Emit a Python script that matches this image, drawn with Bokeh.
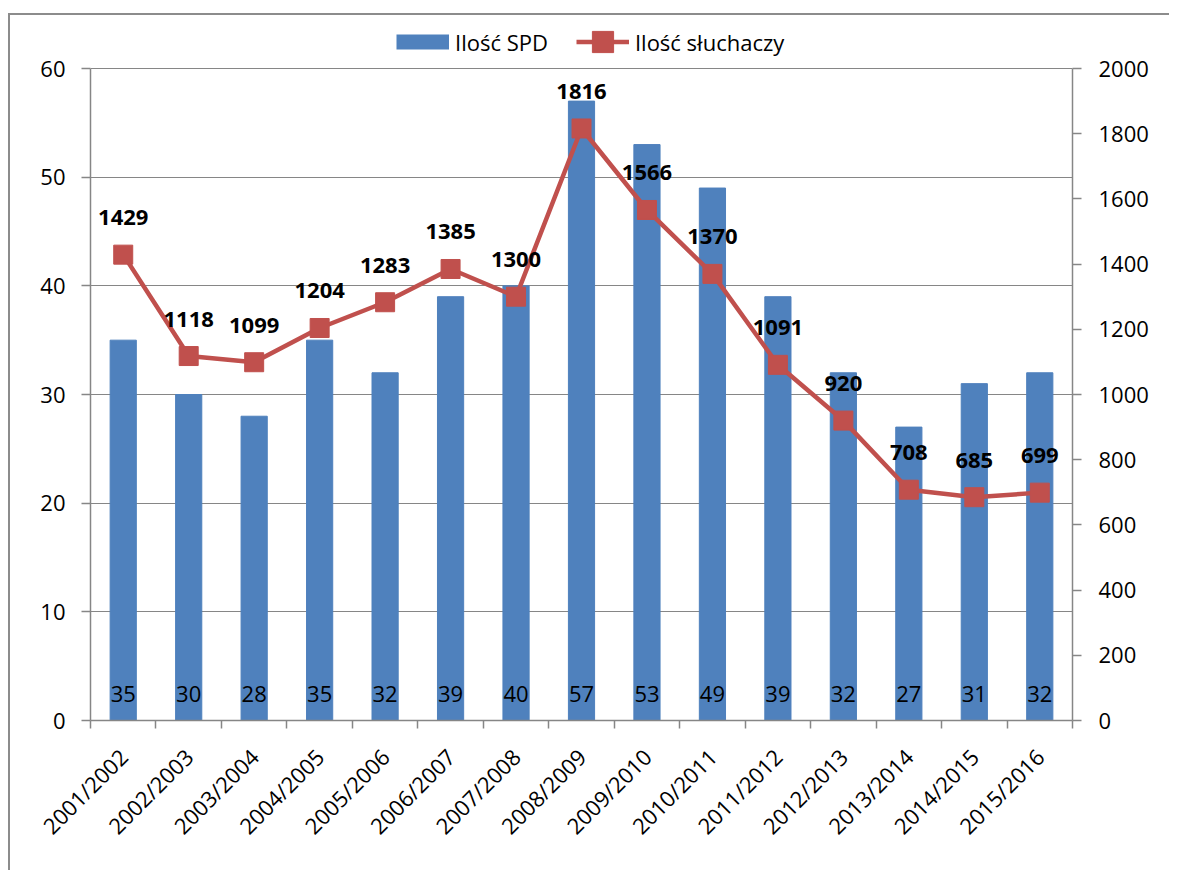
import numpy as np
from bokeh.plotting import figure
from bokeh.models import (Range1d, LinearAxis, FixedTicker, Legend, LegendItem,
                          ColumnDataSource)
from bokeh.embed import file_html
from bokeh.resources import INLINE
from bokeh.core.properties import value

# ---- data ----
years = ["2001/2002", "2002/2003", "2003/2004", "2004/2005", "2005/2006",
         "2006/2007", "2007/2008", "2008/2009", "2009/2010", "2010/2011",
         "2011/2012", "2012/2013", "2013/2014", "2014/2015", "2015/2016"]
spd = [35, 30, 28, 35, 32, 39, 40, 57, 53, 49, 39, 32, 27, 31, 32]
students = [1429, 1118, 1099, 1204, 1283, 1385, 1300, 1816, 1566, 1370,
            1091, 920, 708, 685, 699]
left_ticks = [0, 10, 20, 30, 40, 50, 60]
right_ticks = [0, 200, 400, 600, 800, 1000, 1200, 1400, 1600, 1800, 2000]

FONT = "Open Sans"
FS = "22px"
BLUE = "#4F81BD"
RED = "#C0504D"
GRAY = "#868686"

n = len(years)
xc = [i + 0.5 for i in range(n)]
src = ColumnDataSource(dict(
    x=xc, year=years, spd=spd, students=students,
    spd_lbl=[str(v) for v in spd], st_lbl=[str(v) for v in students]))

# axes keep 0..60 / 0..2000; the frame reaches higher to host the legend
head = 705 / 652
p = figure(frame_width=982, frame_height=705,
           x_range=Range1d(0, n), y_range=Range1d(0, 60 * head),
           output_backend="svg", toolbar_location=None,
           min_border_left=80, min_border_right=97, min_border_top=0,
           min_border_bottom=150)
p.margin = (13, 0, 0, 8)
p.styles = {"border-left": "2px solid #8c8c8c", "border-top": "2px solid #8c8c8c"}
p.outline_line_color = None
p.background_fill_color = "white"
p.border_fill_color = "white"

p.extra_y_ranges = {"right": Range1d(0, 2000 * head)}

bars = p.vbar(x="x", top="spd", width=0.4, source=src, fill_color=BLUE,
              line_color=BLUE)
line_r = p.line(x="x", y="students", source=src, y_range_name="right",
                line_color=RED, line_width=4.5)
sq_r = p.scatter(x="x", y="students", source=src, y_range_name="right",
                 marker="square", size=19, fill_color=RED, line_color=RED)
# hidden legend key for the bar series
bar_key = p.line(x="x", y="spd", source=src, line_color=BLUE, line_width=15,
                 visible=False)

p.text(x="x", y=0, text="spd_lbl", source=src, y_offset=-27,
       text_align="center", text_baseline="middle", text_font=value(FONT),
       text_font_size=FS, text_color="black")
p.text(x="x", y="students", text="st_lbl", source=src, y_range_name="right",
       y_offset=-37, text_align="center", text_baseline="middle",
       text_font=value(FONT), text_font_size=FS, text_font_style="bold",
       text_color="black")

# grid
p.xgrid.visible = False
p.ygrid.grid_line_color = GRAY
p.ygrid.grid_line_width = 1
p.ygrid.ticker = FixedTicker(ticks=left_ticks)

def style_axis(ax):
    ax.axis_line_color = GRAY
    ax.axis_line_width = 1.5
    ax.major_tick_line_color = GRAY
    ax.minor_tick_line_color = GRAY
    ax.major_tick_line_width = 1.5
    ax.minor_tick_line_width = 1.5
    ax.major_label_text_font = FONT
    ax.major_label_text_font_size = FS
    ax.major_label_text_color = "black"

# left axis
ly = p.yaxis[0]
ly.ticker = FixedTicker(ticks=left_ticks)
ly.bounds = (0, 60)
style_axis(ly)
ly.major_tick_out = 9
ly.major_tick_in = 0
ly.minor_tick_out = 0
ly.minor_tick_in = 0
ly.major_label_standoff = 16

# right axis
ry = LinearAxis(y_range_name="right", ticker=FixedTicker(ticks=right_ticks),
                bounds=(0, 2000))
style_axis(ry)
ry.major_tick_out = 9
ry.major_tick_in = 0
ry.minor_tick_out = 0
ry.minor_tick_in = 0
ry.major_label_standoff = 17
p.add_layout(ry, "right")

# x axis
xa = p.xaxis[0]
xa.ticker = FixedTicker(ticks=xc, minor_ticks=list(range(n + 1)))
xa.major_label_overrides = {xc[i]: years[i] for i in range(n)}
style_axis(xa)
xa.major_tick_out = 0
xa.major_tick_in = 0
xa.minor_tick_out = 8
xa.minor_tick_in = 0
xa.major_label_orientation = np.pi / 4
xa.major_label_standoff = 24

# legend
leg = Legend(items=[LegendItem(label="Ilość SPD", renderers=[bar_key]),
                    LegendItem(label="Ilość słuchaczy", renderers=[line_r, sq_r])],
             orientation="horizontal", location=(306, 652),
             glyph_width=53, glyph_height=53, label_standoff=6, spacing=28,
             padding=0, margin=0, border_line_color=None,
             background_fill_alpha=0, label_text_font=FONT,
             label_text_font_size=FS, label_text_color="black")
p.add_layout(leg)

open("out.html", "w").write(file_html(p, INLINE))
